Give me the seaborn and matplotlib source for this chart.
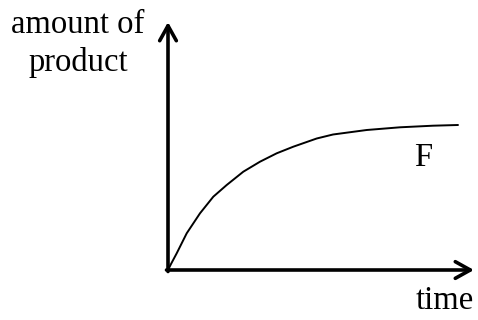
import matplotlib
matplotlib.use("Agg")
import matplotlib.pyplot as plt
import seaborn as sns
import pandas as pd

# curve (arbitrary units)
time = [0, 3, 8.7, 18.7, 32, 45.3, 58.7, 75.3, 92, 108.7, 125.3, 148.7,
        165, 198.7, 232, 265, 290]
amount = [0, 6, 16.7, 36.7, 56.7, 73.3, 85, 98.3, 108.3, 116.7, 123.3, 131.5,
          135.5, 140, 142.7, 144.3, 145]
curve_label = "F"
x_label = "time"
y_label = "amount of\nproduct"

df = pd.DataFrame({"time": time, "amount": amount})

sns.set_theme(style="white")
plt.rcParams["font.family"] = ["Liberation Serif", "DejaVu Serif"]

fig = plt.figure(figsize=(4.78, 3.2), dpi=100)
ax = fig.add_axes([0, 0, 1, 1])
sns.lineplot(data=df, x="time", y="amount", ax=ax, color="black", lw=1.4)

ax.set_xlim(-168, 310)
ax.set_ylim(-50, 270)
ax.axis("off")

# axes drawn as arrows
arrow = dict(arrowstyle="->,head_length=0.9,head_width=0.5", color="black",
             lw=2.6, shrinkA=0, shrinkB=0)
ax.annotate("", xy=(0, 248), xytext=(0, -1.5), arrowprops=arrow)
ax.annotate("", xy=(306, 0), xytext=(-1.5, 0), arrowprops=arrow)

ax.text(-90, 226, y_label, ha="center", va="center", fontsize=23.5,
        linespacing=1.3, color="black")
ax.text(277, -31, x_label, ha="center", va="center", fontsize=23.5, color="black")
ax.text(255, 112, curve_label, ha="center", va="center", fontsize=23.5, color="black")

fig.savefig("out.png", dpi=100)
